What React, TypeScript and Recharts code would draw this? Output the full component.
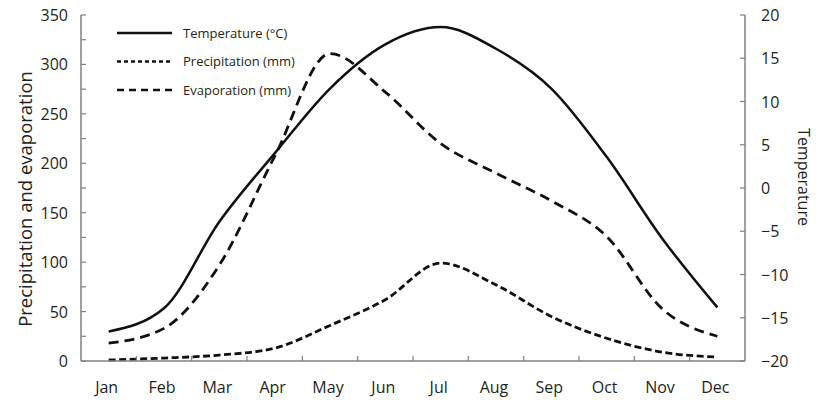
// Climate chart: monthly temperature (right axis) against precipitation and
// evaporation (left axis). Ticks sit inside the frame, month ticks fall
// between the month labels.

import { ComposedChart, Line, XAxis, YAxis } from "recharts";

// ===========================================================================
// DATA
// ===========================================================================

const months = ["Jan", "Feb", "Mar", "Apr", "May", "Jun", "Jul", "Aug", "Sep", "Oct", "Nov", "Dec"];
const temperature = [-16.6, -13.9, -3.9, 4.0, 11.5, 16.6, 18.6, 16.1, 11.5, 3.6, -5.8, -13.8];
const precipitation = [1, 3, 6, 13, 36, 62, 99, 77, 45, 23, 9, 4];
const evaporation = [18, 33, 97, 207, 311, 272, 220, 190, 162, 126, 53, 25];

const leftTicks = [0, 25, 50, 75, 100, 125, 150, 175, 200, 225, 250, 275, 300, 325, 350];
const leftLabelStep = 50;
const rightTicks = [-20, -15, -10, -5, 0, 5, 10, 15, 20];

const data = months.map((month, i) => ({
  month,
  slot: i + 0.5,
  temperature: temperature[i],
  precipitation: precipitation[i],
  evaporation: evaporation[i],
}));

// label positions at slot centres, tick marks at slot boundaries
const xTicks = [
  ...months.map((_, i) => i + 0.5),
  ...months.slice(1).map((_, i) => i + 1),
].sort((a, b) => a - b);

// ===========================================================================
// STYLE
// ===========================================================================

const INK = "#231f20";
const AXIS = "#808080";
const LINE = "#111111";
const FONT = "'Open Sans', sans-serif";

// ===========================================================================
// TICKS
// ===========================================================================

function BottomTick({ x, y, payload }: any) {
  const v = payload.value as number;
  if (Number.isInteger(v)) {
    return <line x1={x} x2={x} y1={y} y2={y - 5} stroke={AXIS} strokeWidth={1.2} />;
  }
  return (
    <text x={x - 2} y={y + 32} textAnchor="middle" fill={INK} fontSize={16} fontFamily={FONT}>
      {months[Math.floor(v)]}
    </text>
  );
}

function LeftTick({ x, y, payload }: any) {
  const v = payload.value as number;
  return (
    <g>
      <line x1={x} x2={x + 5} y1={y} y2={y} stroke={AXIS} strokeWidth={1.2} />
      {v % leftLabelStep === 0 && (
        <text x={x - 13} y={y + 6} textAnchor="end" fill={INK} fontSize={16} fontFamily={FONT}>
          {v}
        </text>
      )}
    </g>
  );
}

function RightTick({ x, y, payload }: any) {
  const v = payload.value as number;
  return (
    <g>
      <line x1={x} x2={x - 5} y1={y} y2={y} stroke={AXIS} strokeWidth={1.2} />
      <text x={x + 16} y={y + 6} textAnchor="start" fill={INK} fontSize={16} fontFamily={FONT}>
        {String(v).replace("-", "\u2212")}
      </text>
    </g>
  );
}

// ===========================================================================
// LEGEND
// ===========================================================================

const legendRows = [
  { label: "Temperature (\u00b0C)", dash: undefined },
  { label: "Precipitation (mm)", dash: "4 3" },
  { label: "Evaporation (mm)", dash: "7 5" },
];

function ClimateLegend() {
  return (
    <svg
      width={200}
      height={90}
      style={{ position: "absolute", left: 117, top: 23, overflow: "visible" }}
    >
      {legendRows.map((row, i) => (
        <g key={row.label} transform={`translate(0, ${10 + i * 28.5})`}>
          <line x1={0} x2={55} y1={0} y2={0} stroke={LINE} strokeWidth={2.5} strokeDasharray={row.dash} />
          <text x={66} y={4.5} fill={INK} fontSize={13} fontFamily={FONT}>
            {row.label}
          </text>
        </g>
      ))}
    </svg>
  );
}

// ===========================================================================
// MAIN
// ===========================================================================

export default function App() {
  return (
    <div style={{ position: "absolute", left: 0, top: 0, width: 818, height: 400, background: "#fff" }}>
      <ComposedChart width={818} height={400} data={data} margin={{ top: 15, right: 0, bottom: 9, left: 0 }}>
        <XAxis
          dataKey="slot"
          type="number"
          domain={[0, 12]}
          ticks={xTicks}
          interval={0}
          height={30}
          tickSize={0}
          tickMargin={0}
          tickLine={false}
          axisLine={{ stroke: AXIS, strokeWidth: 1.5 }}
          tick={(p: any) => <BottomTick {...p} />}
        />
        <YAxis
          yAxisId="left"
          domain={[0, 350]}
          ticks={leftTicks}
          interval={0}
          width={81}
          tickSize={0}
          tickMargin={0}
          tickLine={false}
          axisLine={{ stroke: AXIS, strokeWidth: 1.5 }}
          tick={(p: any) => <LeftTick {...p} />}
          label={({ viewBox }: any) => {
            const cx = viewBox.x + 26;
            const cy = 199;
            return (
              <text
                x={cx}
                y={cy}
                dy="0.35em"
                textAnchor="middle"
                transform={`rotate(-90, ${cx}, ${cy})`}
                fill={INK}
                fontSize={18.5}
                fontFamily={FONT}
              >
                Precipitation and evaporation
              </text>
            );
          }}
        />
        <YAxis
          yAxisId="right"
          orientation="right"
          domain={[-20, 20]}
          ticks={rightTicks}
          interval={0}
          width={73}
          tickSize={0}
          tickMargin={0}
          tickLine={false}
          axisLine={{ stroke: AXIS, strokeWidth: 1.5 }}
          tick={(p: any) => <RightTick {...p} />}
          label={({ viewBox }: any) => {
            const cx = viewBox.x + 59;
            const cy = 177;
            return (
              <text
                x={cx}
                y={cy}
                dy="0.35em"
                textAnchor="middle"
                transform={`rotate(90, ${cx}, ${cy})`}
                fill={INK}
                fontSize={16}
                fontFamily={FONT}
              >
                Temperature
              </text>
            );
          }}
        />

        <Line
          yAxisId="right"
          type="monotone"
          dataKey="temperature"
          stroke={LINE}
          strokeWidth={2.5}
          dot={false}
          isAnimationActive={false}
        />
        <Line
          yAxisId="left"
          type="monotone"
          dataKey="precipitation"
          stroke={LINE}
          strokeWidth={2.8}
          strokeDasharray="7 3.5"
          dot={false}
          isAnimationActive={false}
        />
        <Line
          yAxisId="left"
          type="monotone"
          dataKey="evaporation"
          stroke={LINE}
          strokeWidth={2.8}
          strokeDasharray="10 6"
          dot={false}
          isAnimationActive={false}
        />
      </ComposedChart>
      <ClimateLegend />
    </div>
  );
}
